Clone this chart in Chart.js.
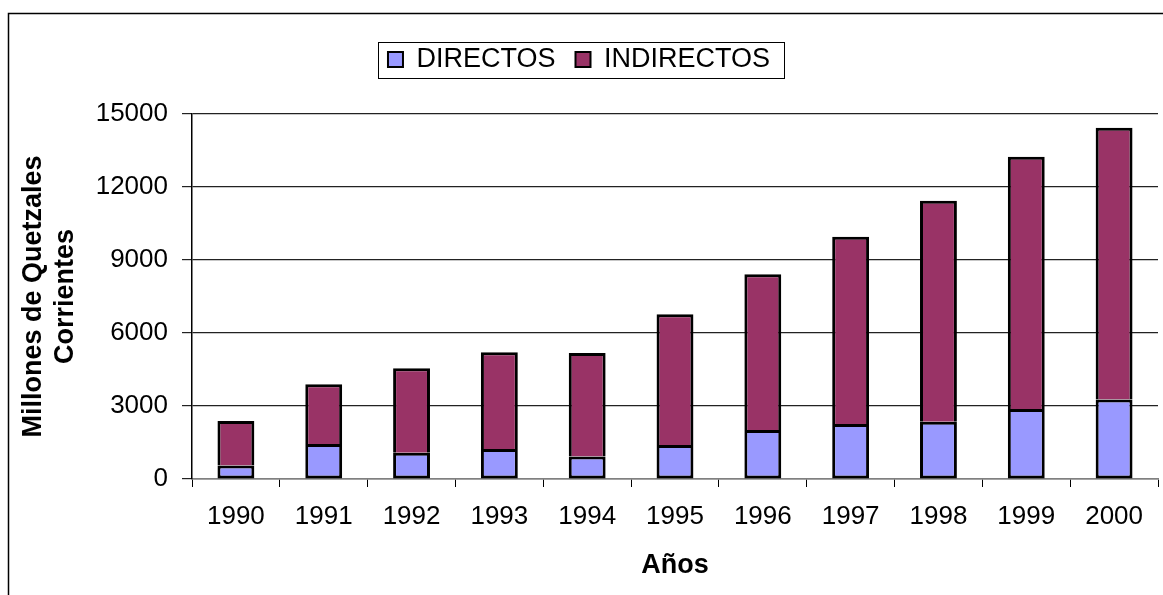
<!DOCTYPE html>
<html>
<head>
<meta charset="utf-8">
<script src="https://cdn.jsdelivr.net/npm/chart.js@4.4.0/dist/chart.umd.min.js"></script>
<style>
  html, body { margin: 0; padding: 0; background: #fff; }
  #wrap { width: 1163px; height: 595px; position: relative; }
</style>
</head>
<body>
<div id="wrap"><canvas id="myChart"></canvas></div>
<script>
const years = ['1990', '1991', '1992', '1993', '1994', '1995', '1996', '1997', '1998', '1999', '2000'];
const directos = [550, 1440, 1080, 1230, 920, 1400, 2010, 2260, 2350, 2880, 3270];
const indirectos = [1830, 2450, 3470, 3980, 4260, 5370, 6400, 7700, 9090, 10360, 11170];
const yTicks = [0, 3000, 6000, 9000, 12000, 15000];

const FONT = "'Liberation Sans', Arial, sans-serif";

// outer frame of the chart object (only left and top edges are visible)
const frame = {
  id: 'frame',
  beforeDraw(chart) {
    const ctx = chart.ctx;
    ctx.save();
    ctx.fillStyle = '#fff';
    ctx.fillRect(0, 0, chart.width, chart.height);
    ctx.strokeStyle = '#000';
    ctx.lineWidth = 1.5;
    ctx.strokeRect(8.5, 13.5, 1300, 800);
    ctx.restore();
  }
};

// box around the legend + more space under it
const legendBox = {
  id: 'legendBox',
  beforeLayout(chart) {
    const lg = chart.legend;
    if (lg && !lg._patched) {
      const fit = lg.fit;
      lg.fit = function () {
        fit.call(this);
        this.height += 31;
      };
      lg._patched = true;
    }
  },
  afterDraw(chart) {
    const hb = chart.legend.legendHitBoxes;
    if (!hb || !hb.length) return;
    const last = hb[hb.length - 1];
    const cy = hb[0].top + hb[0].height / 2;
    const ctx = chart.ctx;
    ctx.save();
    ctx.strokeStyle = '#000';
    ctx.lineWidth = 1;
    const l = Math.round(hb[0].left - 10) + 0.5;
    const r = Math.round(last.left + last.width + 14) + 0.5;
    ctx.strokeRect(l, Math.round(cy - 18) + 0.5, r - l, 36);
    ctx.restore();
  }
};

new Chart(document.getElementById('myChart'), {
  type: 'bar',
  data: {
    labels: years,
    datasets: [
      {
        label: 'DIRECTOS',
        data: directos,
        backgroundColor: '#9999FF',
        borderColor: '#000',
        borderWidth: 3,
        borderSkipped: false
      },
      {
        label: 'INDIRECTOS',
        data: indirectos,
        backgroundColor: '#993366',
        borderColor: '#000',
        borderWidth: 3,
        borderSkipped: 'start'
      }
    ]
  },
  plugins: [frame, legendBox],
  options: {
    responsive: true,
    maintainAspectRatio: false,
    animation: false,
    devicePixelRatio: 1,
    layout: { padding: { left: 0, right: 5, top: 26, bottom: 0 } },
    datasets: { bar: { barPercentage: 0.42, categoryPercentage: 1 } },
    plugins: {
      tooltip: { enabled: false },
      legend: {
        position: 'top',
        labels: {
          color: '#000',
          font: { family: FONT, size: 27 },
          boxWidth: 15,
          boxHeight: 15,
          padding: 20,
          generateLabels(chart) {
            return chart.data.datasets.map((ds, i) => ({
              text: ds.label,
              fillStyle: ds.backgroundColor,
              strokeStyle: '#000',
              lineWidth: 2,
              hidden: false,
              datasetIndex: i,
              fontColor: '#000'
            }));
          }
        }
      }
    },
    scales: {
      x: {
        stacked: true,
        grid: { display: true, drawOnChartArea: false, offset: true, tickLength: 8, color: '#000' },
        border: { color: '#808080', width: 1.5 },
        ticks: { color: '#000', font: { family: FONT, size: 26 }, padding: 14, maxRotation: 0 },
        title: {
          display: true,
          text: 'Años',
          color: '#000',
          font: { family: FONT, size: 27, weight: 'bold' },
          padding: { top: 0, bottom: 13 }
        },
        afterFit(scale) { scale.height = 116; }
      },
      y: {
        stacked: true,
        min: 0,
        max: 15000,
        afterBuildTicks(scale) { scale.ticks = yTicks.map(v => ({ value: v })); },
        grid: { color: '#222', tickLength: 10, lineWidth: 1.2 },
        border: { color: '#000', width: 1.5 },
        ticks: {
          color: '#000',
          font: { family: FONT, size: 26 },
          padding: 14,
          callback: v => String(v)
        },
        title: {
          display: true,
          text: ['Millones de Quetzales', 'Corrientes'],
          color: '#000',
          font: { family: FONT, size: 27, weight: 'bold', lineHeight: 1.2 },
          padding: { top: 17, bottom: 0 }
        },
        afterFit(scale) { scale.width = 192; }
      }
    }
  }
});
</script>
</body>
</html>
